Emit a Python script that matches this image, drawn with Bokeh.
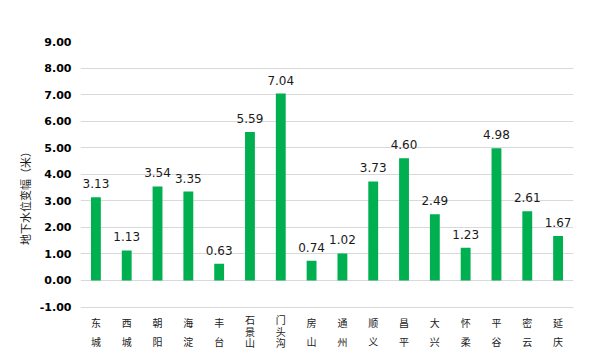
from bokeh.plotting import figure
from bokeh.models import ColumnDataSource, LabelSet, FixedTicker, NumeralTickFormatter, Range1d
from bokeh.core.properties import value
from bokeh.embed import file_html
from bokeh.resources import INLINE

districts = ["东城", "西城", "朝阳", "海淀", "丰台", "石景山", "门头沟", "房山",
             "通州", "顺义", "昌平", "大兴", "怀柔", "平谷", "密云", "延庆"]
changes = [3.13, 1.13, 3.54, 3.35, 0.63, 5.59, 7.04, 0.74,
           1.02, 3.73, 4.60, 2.49, 1.23, 4.98, 2.61, 1.67]
y_ticks = [-1, 0, 1, 2, 3, 4, 5, 6, 7, 8, 9]
y_title = "地下水位变幅（米）"

y_min, y_max = y_ticks[0], y_ticks[-1]
# extra room below the axis so the stacked category names sit inside the frame
y_floor = y_min - 1.6

p = figure(width=584, height=350, x_range=districts, y_range=Range1d(y_floor, y_max),
           output_backend="svg", toolbar_location=None,
           min_border_left=80, min_border_right=11, min_border_top=41, min_border_bottom=1)
p.outline_line_color = None
p.background_fill_color = "white"
p.border_fill_color = "white"

src = ColumnDataSource(dict(x=districts, top=changes,
                            lbl=[f"{v:.2f}" for v in changes]))
p.vbar(x="x", top="top", bottom=0, width=0.32, source=src,
       fill_color="#00B050", line_color=None)

# value labels
p.add_layout(LabelSet(x="x", y="top", text="lbl", source=src,
                      text_align="center", text_baseline="alphabetic", y_offset=9,
                      text_font=value("DejaVu Sans"), text_font_size="12px",
                      text_color="#1a1a1a"))

# category labels, stacked vertically (pixel offsets below the -1 line)
cx, ct, co = [], [], []
for d in districts:
    offs = [15.2, 34.5] if len(d) == 2 else [12.5, 24.0, 35.5]
    for ch, o in zip(d, offs):
        cx.append(d)
        ct.append(ch)
        co.append(o)
csrc = ColumnDataSource(dict(x=cx, y=[y_min] * len(cx), t=ct, o=co))
p.text(x="x", y="y", text="t", y_offset="o", source=csrc,
       text_align="center", text_baseline="middle",
       text_font=value("Noto Sans CJK SC"), text_font_size="10px",
       text_color="#1a1a1a")

p.xaxis.visible = False
p.xgrid.grid_line_color = None
p.ygrid.grid_line_color = "#d9d9d9"
p.ygrid.grid_line_width = 1

ya = p.yaxis[0]
ya.ticker = FixedTicker(ticks=y_ticks)
ya.formatter = NumeralTickFormatter(format="0.00")
ya.axis_line_color = None
ya.major_tick_line_color = None
ya.minor_tick_line_color = None
ya.major_tick_out = 0
ya.major_tick_in = 0
ya.major_label_standoff = 9
ya.major_label_text_font = "DejaVu Sans"
ya.major_label_text_font_style = "bold"
ya.major_label_text_font_size = "11px"
ya.major_label_text_color = "#000000"
ya.axis_label = y_title
ya.axis_label_standoff = 4
ya.axis_label_text_font = "Noto Sans CJK SC"
ya.axis_label_text_font_style = "normal"
ya.axis_label_text_font_size = "11px"
ya.axis_label_text_color = "#1a1a1a"

open("out.html", "w").write(file_html(p, INLINE))
